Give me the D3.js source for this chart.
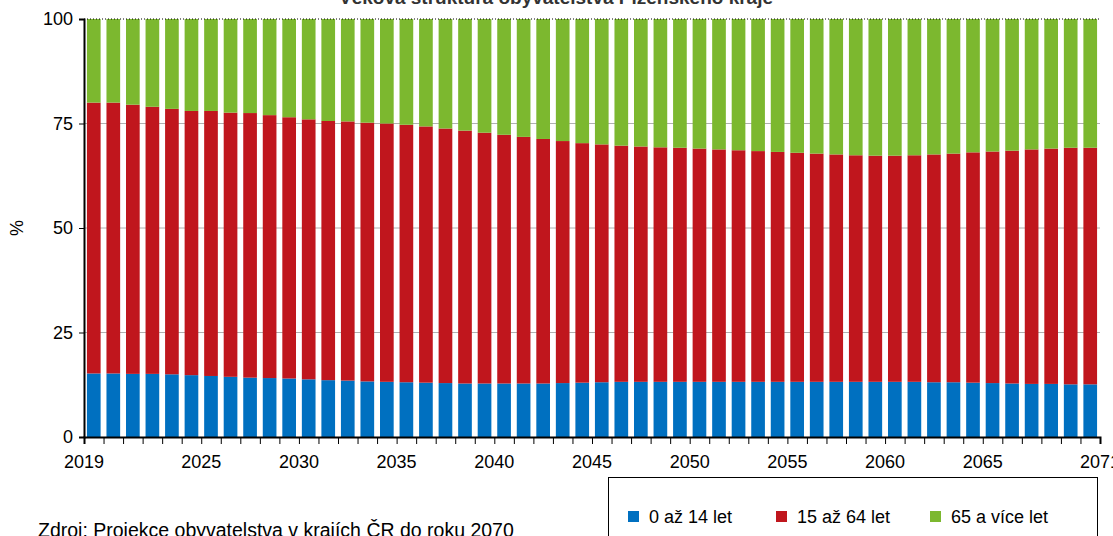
<!DOCTYPE html>
<html>
<head>
<script src="https://d3js.org/d3.v7.min.js"></script>
<style>
  body { margin: 0; font-family: "Liberation Sans", Arial, sans-serif; }
</style>
</head>
<body>
<div id="chart"></div>
<script>
const years = d3.range(2019, 2071);
const young = [15.2,15.2,15.1,15.1,15.0,14.8,14.6,14.4,14.2,14.1,14.0,13.8,13.6,13.5,13.3,13.2,13.1,13.0,12.9,12.8,12.8,12.8,12.8,12.8,12.9,13.0,13.1,13.2,13.2,13.2,13.2,13.2,13.2,13.2,13.2,13.2,13.2,13.2,13.2,13.2,13.2,13.2,13.2,13.1,13.1,13.0,12.9,12.8,12.7,12.7,12.6,12.6];
const upTo64 = [80.0,80.0,79.5,79.0,78.5,78.0,78.0,77.6,77.5,77.0,76.5,76.0,75.6,75.5,75.2,75.0,74.7,74.3,73.8,73.3,72.8,72.3,71.8,71.3,70.8,70.3,70.0,69.7,69.5,69.3,69.2,69.0,68.8,68.6,68.4,68.2,68.0,67.8,67.6,67.4,67.3,67.3,67.4,67.6,67.8,68.1,68.3,68.5,68.8,69.0,69.2,69.2];
const seriesNames = ["0 až 14 let", "15 až 64 let", "65 a více let"];
const colors = ["#0070c0", "#c0161d", "#7cb82f"];
const tickYears = [2019, 2025, 2030, 2035, 2040, 2045, 2050, 2055, 2060, 2065, 2071];

const rows = years.map((y, i) => ({ year: y, a: young[i], b: upTo64[i] - young[i], c: 100 - upTo64[i] }));
const width = 1113, height = 536;
const margin = { left: 84, right: 13, top: 19, bottom: 99 };

const svg = d3.select("#chart").append("svg").attr("width", width).attr("height", height);

const x = d3.scaleLinear().domain([2019, 2071]).range([margin.left, width - margin.right]);
const y = d3.scaleLinear().domain([0, 100]).range([height - margin.bottom, margin.top]);
const slot = x(2020) - x(2019);

svg.append("text").attr("x", 556).attr("y", 4).attr("text-anchor", "middle")
  .attr("font-size", 19).attr("font-weight", "bold").attr("fill", "#333")
  .text("Věková struktura obyvatelstva Plzeňského kraje");

// grid
svg.append("g").selectAll("line").data([25, 50, 75]).join("line")
  .attr("x1", margin.left).attr("x2", width - margin.right)
  .attr("y1", d => y(d)).attr("y2", d => y(d))
  .attr("stroke", "#b0b0b0");

const stack = d3.stack().keys(["a", "b", "c"])(rows);
svg.append("g").selectAll("g").data(stack).join("g")
  .attr("fill", (d, i) => colors[i])
  .selectAll("rect").data(d => d).join("rect")
  .attr("x", d => x(d.data.year) + slot * 0.15)
  .attr("width", slot * 0.7)
  .attr("y", d => y(d[1]))
  .attr("height", d => y(d[0]) - y(d[1]));

// top border line
svg.append("line").attr("x1", margin.left).attr("x2", width - margin.right)
  .attr("y1", y(100)).attr("y2", y(100)).attr("stroke", "#000").attr("stroke-dasharray", "1,2");

const yAxis = svg.append("g").attr("transform", `translate(${margin.left},0)`)
  .call(d3.axisLeft(y).tickValues([0, 25, 50, 75, 100]).tickSize(5).tickPadding(6));
yAxis.selectAll("text").attr("font-size", 18).attr("font-family", "Liberation Sans, Arial");
yAxis.select(".domain").attr("stroke-width", 2);

const xAxis = svg.append("g").attr("transform", `translate(0,${y(0)})`)
  .call(d3.axisBottom(x).tickValues(d3.range(2019, 2072)).tickSize(7).tickFormat(""));
xAxis.select(".domain").attr("stroke-width", 2);
svg.append("g").selectAll("text").data(tickYears).join("text")
  .attr("x", d => x(d)).attr("y", y(0) + 31).attr("text-anchor", "middle")
  .attr("font-size", 18).text(d => d);

svg.append("text").attr("transform", `translate(23,${y(50)}) rotate(-90)`)
  .attr("text-anchor", "middle").attr("font-size", 18).text("%");

// legend
const lg = svg.append("g");
lg.append("rect").attr("x", 608.5).attr("y", 477.5).attr("width", 489).attr("height", 70)
  .attr("fill", "#fff").attr("stroke", "#000");
const lx = [638, 786, 940];
lg.selectAll("g").data(seriesNames).join("g")
  .attr("transform", (d, i) => `translate(${lx[i]},517)`)
  .call(g => g.append("rect").attr("x", -10).attr("y", -6).attr("width", 11).attr("height", 11).attr("fill", (d, i) => colors[i]))
  .call(g => g.append("text").attr("x", 11).attr("y", 6).attr("font-size", 18).text(d => d));

svg.append("text").attr("x", 38).attr("y", 537).attr("font-size", 19.5)
  .text("Zdroj: Projekce obyvatelstva v krajích ČR do roku 2070");
</script>
</body>
</html>
